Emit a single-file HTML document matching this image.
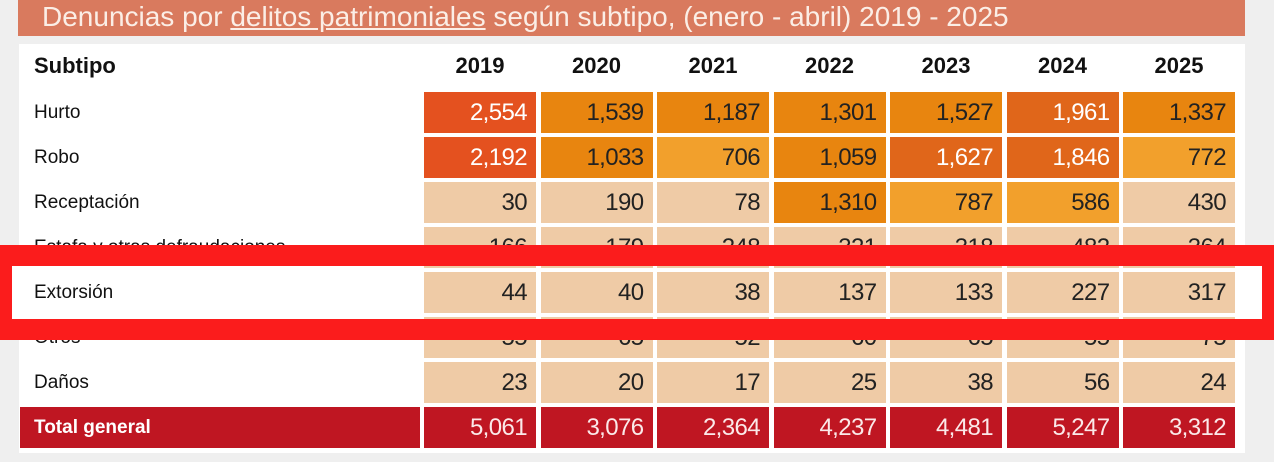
<!DOCTYPE html>
<html><head><meta charset="utf-8"><style>
body{margin:0;width:1274px;height:462px;background:#efefef;position:relative;overflow:hidden;font-family:"Liberation Sans",sans-serif}
.a{position:absolute;box-sizing:border-box}
.c{font-size:24px;text-align:right;padding-right:9px;line-height:41px;height:41px;letter-spacing:-0.6px;color:#222}
.l{font-size:19px;line-height:41px;height:41px;color:#111;padding-left:14px}
.h{font-size:22px;font-weight:bold;text-align:center;color:#111}
</style></head><body>
<div class="a" style="left:18px;top:0;width:1227px;height:36px;background:#d97a5e;color:#fbeee6;font-size:28px;line-height:34px;padding-left:24px;white-space:nowrap">Denuncias por <u>delitos patrimoniales</u> según subtipo, (enero - abril) 2019 - 2025</div>
<div class="a" style="left:19px;top:44px;width:1226px;height:409px;background:#fff"></div>
<div id="t"></div>
<div class="a" style="left:0;top:245px;width:1274px;height:95px;border:21px solid #fb1c1c;border-left-width:12px;border-right-width:12px"></div>
<script>
const years=["2019","2020","2021","2022","2023","2024","2025"];
const subtipos=["Hurto","Robo","Receptación","Estafa y otras defraudaciones","Extorsión","Otros","Daños"];
const hurto=[2554,1539,1187,1301,1527,1961,1337];
const robo=[2192,1033,706,1059,1627,1846,772];
const receptacion=[30,190,78,1310,787,586,430];
const estafa=[166,179,248,321,318,482,364];
const extorsion=[44,40,38,137,133,227,317];
const otros=[55,65,52,60,65,55,75];
const danos=[23,20,17,25,38,56,24];
const total=[5061,3076,2364,4237,4481,5247,3312];
const rows=[hurto,robo,receptacion,estafa,extorsion,otros,danos];
const t=document.getElementById('t');
const colX=i=>424+i*116.5, colW=112, rowY=r=>92+r*45;
function color(v){if(v>=2000)return['#e4511f','#fff'];if(v>=1600)return['#e0661a','#fff'];if(v>=1000)return['#e8850f','#222'];if(v>=550)return['#f2a02c','#222'];return['#efcba6','#222'];}
function add(cls,x,y,w,txt,st){const d=document.createElement('div');d.className='a '+cls;d.style.cssText=`left:${x}px;top:${y}px;width:${w}px;`+(st||'');d.textContent=txt;t.appendChild(d);return d;}
let h=add('h',20,48,200,'Subtipo','text-align:left;padding-left:14px;line-height:36px');


years.forEach((y,i)=>{const d=add('h',colX(i),48,colW,y,'line-height:36px');

});
rows.forEach((vals,r)=>{
const lb=add('l',20,rowY(r),400,subtipos[r]);


vals.forEach((v,i)=>{const [bg,fg]=color(v);
const d=add('c',colX(i),rowY(r),colW,v.toLocaleString('en-US'),`background:${bg};color:${fg}`);

});});
const tl=add('l',20,rowY(7),400,'Total general','background:#bf1622;color:#fff;font-weight:bold;font-size:19px');


total.forEach((v,i)=>{const d=add('c',colX(i),rowY(7),colW,v.toLocaleString('en-US'),'background:#bf1622;color:#fbe9e9');

});
const w1=add('',12,266,8,'','height:53px;background:#fff');


const w2=add('',1245,266,17,'','height:53px;background:#fff');


</script>
</body></html>
